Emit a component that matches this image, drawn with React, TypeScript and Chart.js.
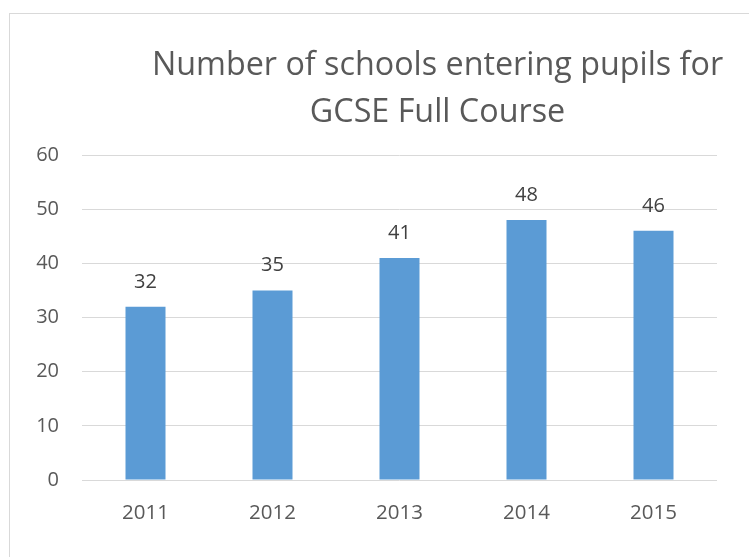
import React, { useEffect, useRef } from "react";
import { Chart, registerables } from "chart.js";

Chart.register(...registerables);

const categories = ["2011", "2012", "2013", "2014", "2015"];
const schools = [32, 35, 41, 48, 46];
const titleLines = ["Number of schools entering pupils for", "GCSE Full Course"];
const yMin = 0;
const yMax = 60;
const yStep = 10;

const FONT = "'Open Sans', 'DejaVu Sans', sans-serif";

const valueLabels = {
  id: "valueLabels",
  afterDatasetsDraw(chart: any) {
    const ctx = chart.ctx;
    const meta = chart.getDatasetMeta(0);
    const data = chart.data.datasets[0].data;
    ctx.save();
    ctx.font = `20px ${FONT}`;
    ctx.fillStyle = "#404040";
    ctx.textAlign = "center";
    ctx.textBaseline = "alphabetic";
    meta.data.forEach((bar: any, i: number) => {
      ctx.fillText(String(data[i]), bar.x, bar.y - 19);
    });
    ctx.restore();
  },
};

export default function App() {
  const ref = useRef<HTMLCanvasElement>(null);
  useEffect(() => {
    if (!ref.current) return;
    const chart = new Chart(ref.current, {
      type: "bar",
      data: {
        labels: categories,
        datasets: [
          {
            data: schools,
            backgroundColor: "#5b9bd5",
            barPercentage: 0.315,
            categoryPercentage: 1,
          },
        ],
      },
      options: {
        responsive: false,
        animation: false,
        layout: { padding: 0 },
        plugins: {
          legend: { display: false },
          tooltip: { enabled: false },
          title: {
            display: true,
            text: titleLines,
            color: "#595959",
            font: { family: FONT, size: 32.3, weight: "normal", lineHeight: "47px" },
            padding: { top: 28, bottom: 19 },
          },
        },
        scales: {
          x: {
            grid: { display: false },
            border: { display: false },
            ticks: {
              color: "#595959",
              font: { family: FONT, size: 20.5 },
              padding: 13,
              maxRotation: 0,
            },
            afterFit: (s: any) => {
              s.height = 77;
            },
          },
          y: {
            min: yMin,
            max: yMax,
            border: { display: false },
            grid: { color: "#d9d9d9", lineWidth: 1, drawTicks: false },
            ticks: {
              stepSize: yStep,
              color: "#595959",
              font: { family: FONT, size: 20 },
              padding: 23,
            },
            afterFit: (s: any) => {
              s.width = 72;
            },
          },
          yRight: {
            position: "right",
            display: true,
            grid: { display: false },
            border: { display: false },
            ticks: { display: false },
            afterFit: (s: any) => {
              s.width = 148;
            },
          },
        },
      },
      plugins: [valueLabels],
    });
    return () => chart.destroy();
  }, []);

  return (
    <div
      style={{
        position: "fixed",
        left: 0,
        top: 0,
        width: 749,
        height: 557,
        overflow: "hidden",
        background: "#fff",
      }}
    >
      <div
        style={{
          position: "absolute",
          left: 9,
          top: 13,
          width: 900,
          height: 700,
          border: "1px solid #d9d9d9",
        }}
      >
        <canvas ref={ref} width={855} height={543} style={{ display: "block", width: 855, height: 543 }} />
      </div>
    </div>
  );
}
